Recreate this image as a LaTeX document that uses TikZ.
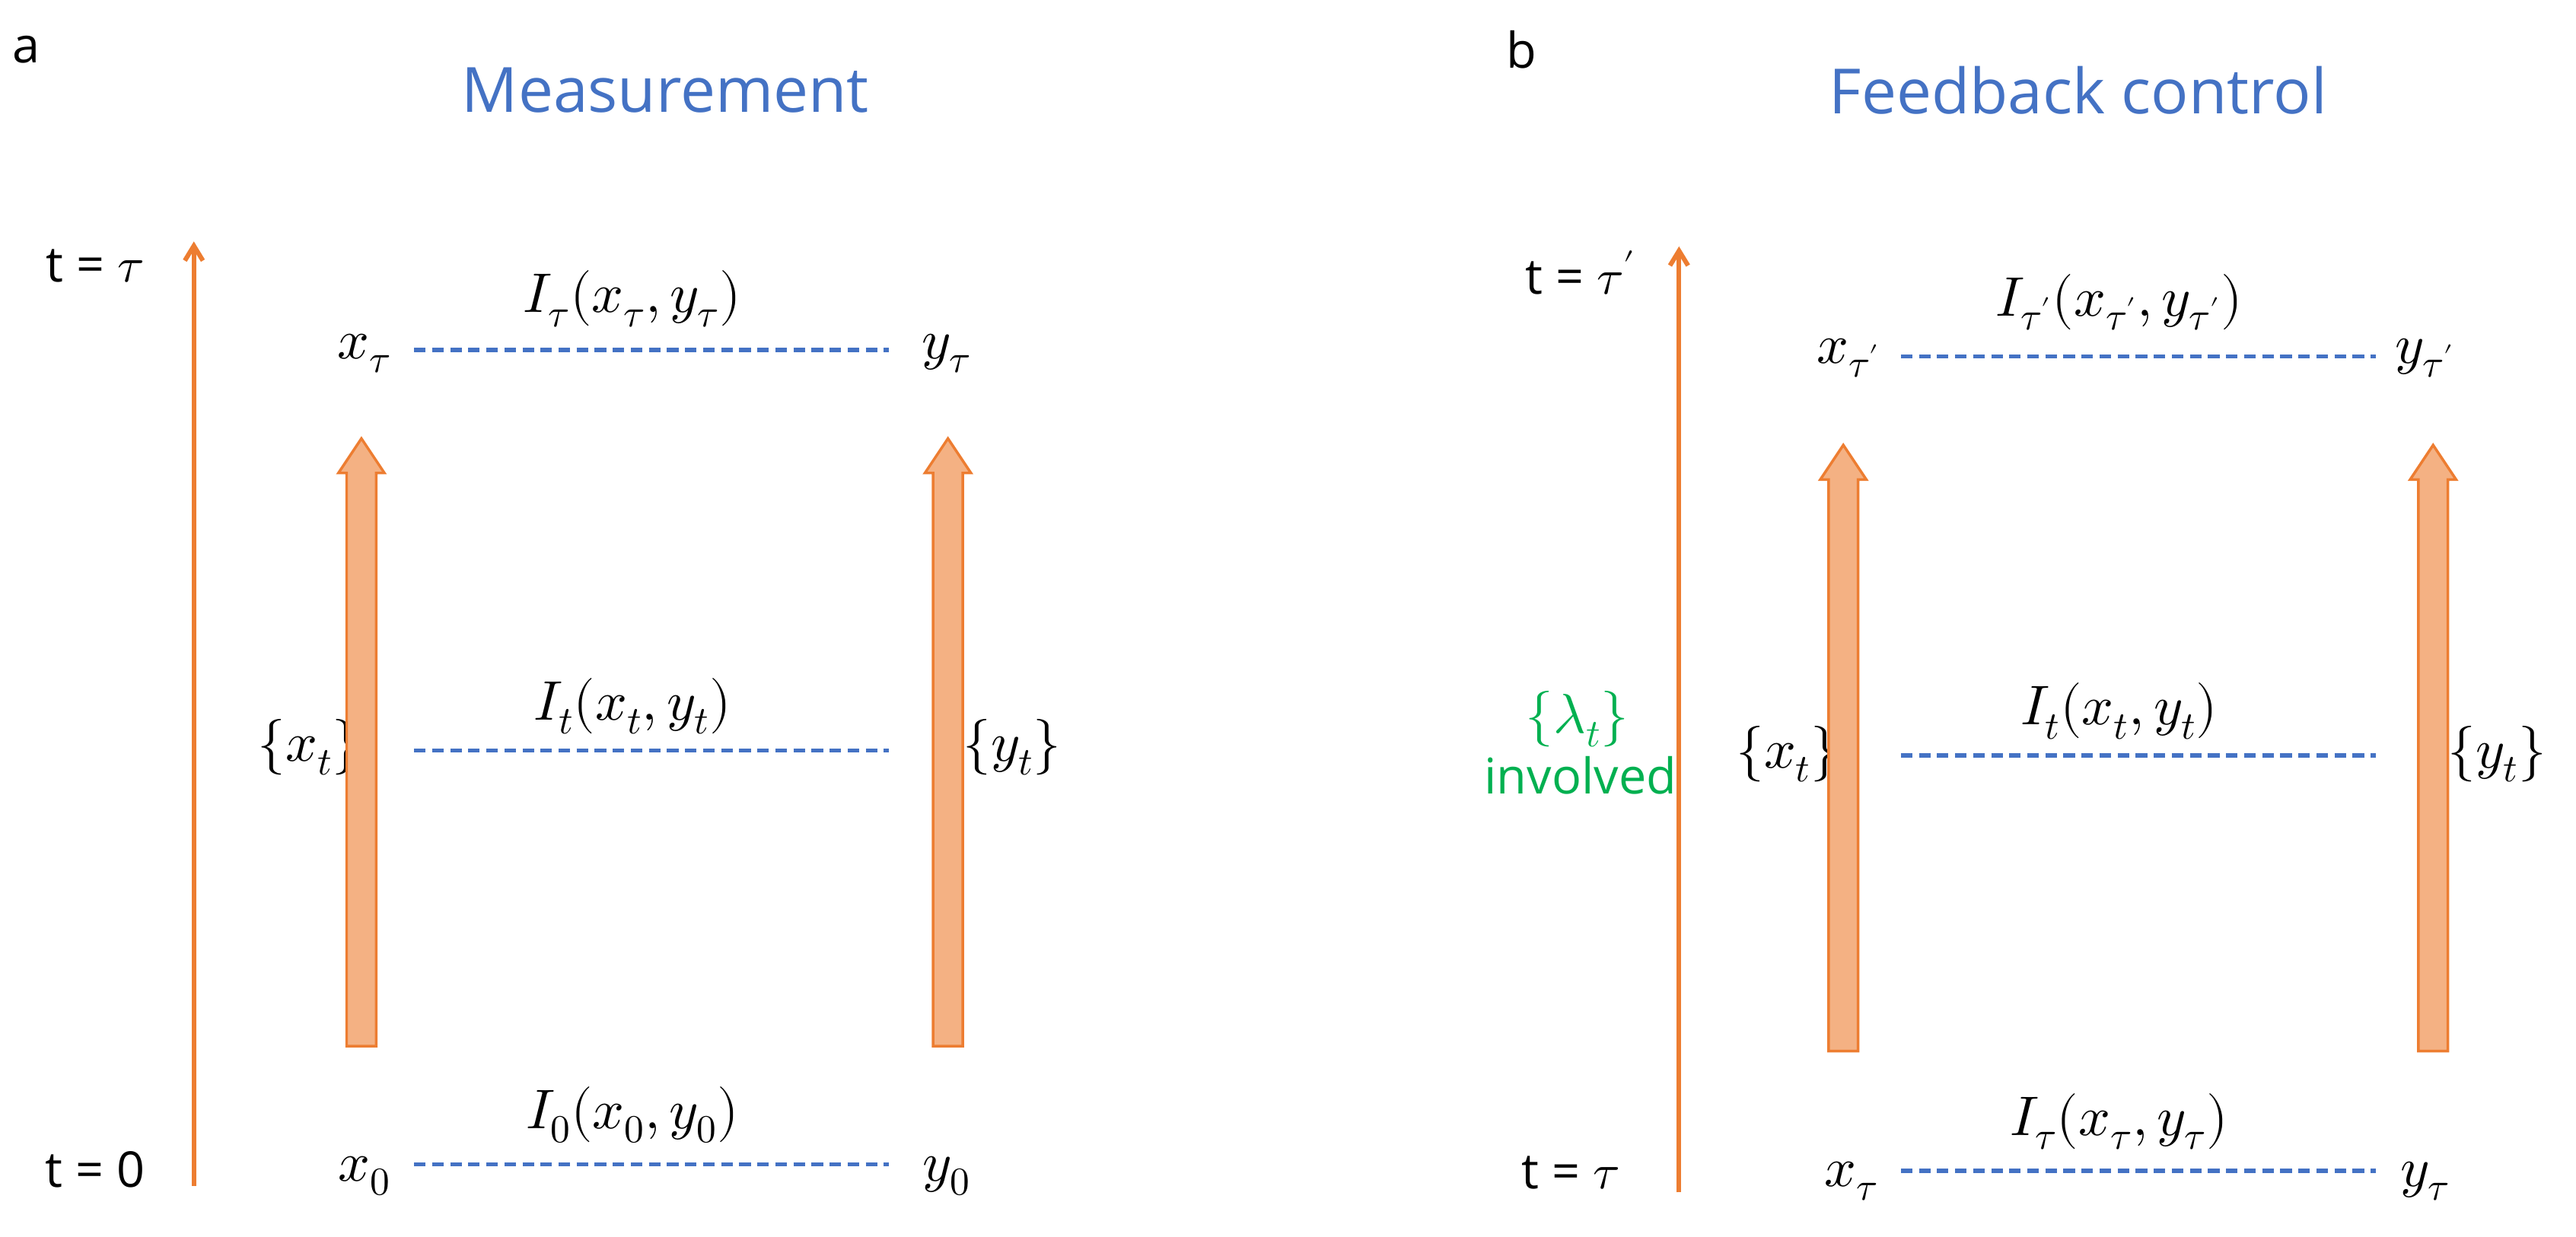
\documentclass[tikz,border=0pt]{standalone}
\usepackage{fontspec}
\setmainfont{Open Sans}
\usepackage{unicode-math}
\setmathfont{Latin Modern Math}
\usetikzlibrary{arrows.meta}
\definecolor{cblue}{HTML}{4472C4}
\definecolor{corange}{HTML}{ED7D31}
\definecolor{cfill}{HTML}{F4B183}
\definecolor{cgreen}{HTML}{00B050}
\begin{document}
\begin{tikzpicture}[x=1pt,y=-1pt,
  lab/.style={font=\fontsize{30}{36}\selectfont, inner sep=0pt},
  mth/.style={font=\fontsize{34}{40}\selectfont, inner sep=0pt},
  ttl/.style={font=\fontsize{38}{44}\selectfont, text=cblue, inner sep=0pt},
  bdash/.style={cblue, line width=2.6pt, dash pattern=on 7pt off 4pt},
  time/.style={corange, line width=2.8pt, -{Straight Barb[length=9pt,width=11pt]}},
  big/.style={draw=corange, fill=cfill, line width=1.6pt}]
\useasboundingbox (0,0) rectangle (1568,753);
% panel a
\node[lab] (a) at (16,30) {a};
\node[ttl] (ta) at (405,55) {Measurement};
\coordinate (a0) at (118,722); \coordinate (a1) at (118,147);
\draw[time] (a0) -- (a1);
\node[lab] (tat) at (58,162) {t = $\tau$};
\node[lab] (ta0) at (58,712) {t = 0};
\node[mth] (xt) at (222,215) {$x_\tau$};
\node[mth] (yt) at (576,215) {$y_\tau$};
\draw[bdash] (252,213) -- (541,213);
\node[mth] (it) at (385,182) {$I_\tau(x_\tau,y_\tau)$};
\node[mth] (xm) at (188,455) {$\{x_t\}$};
\node[mth] (ym) at (616,455) {$\{y_t\}$};
\draw[bdash] (252,457) -- (541,457);
\node[mth] (im) at (385,430) {$I_t(x_t,y_t)$};
\node[mth] (x0) at (222,716) {$x_0$};
\node[mth] (y0) at (576,716) {$y_0$};
\draw[bdash] (252,709) -- (541,709);
\node[mth] (i0) at (385,679) {$I_0(x_0,y_0)$};
\foreach \cx in {220,577}{
 \draw[big] (\cx-9,637) -- (\cx-9,288) -- (\cx-14,288) -- (\cx,267) -- (\cx+14,288) -- (\cx+9,288) -- (\cx+9,637) -- cycle;}
% panel b
\node[lab] (b) at (926,30) {b};
\node[ttl] (tb) at (1265,55) {Feedback control};
\coordinate (b0) at (1022,726); \coordinate (b1) at (1022,150);
\draw[time] (b0) -- (b1);
\node[lab] (tbt) at (962,166) {t = $\tau'$};
\node[lab] (tb0) at (956,714) {t = $\tau$};
\node[mth] (bxt) at (1125,218) {$x_{\tau'}$};
\node[mth] (byt) at (1476,218) {$y_{\tau'}$};
\draw[bdash] (1157,217) -- (1446,217);
\node[mth] (bit) at (1290,184) {$I_{\tau'}(x_{\tau'},y_{\tau'})$};
\node[mth, text=cgreen] (lam) at (960,438) {$\{\lambda_t\}$};
\node[lab, text=cgreen] (inv) at (962,472) {involved};
\node[mth] (bxm) at (1088,459) {$\{x_t\}$};
\node[mth] (bym) at (1520,459) {$\{y_t\}$};
\draw[bdash] (1157,460) -- (1446,460);
\node[mth] (bim) at (1290,433) {$I_t(x_t,y_t)$};
\node[mth] (bx0) at (1127,719) {$x_\tau$};
\node[mth] (by0) at (1476,719) {$y_\tau$};
\draw[bdash] (1157,713) -- (1446,713);
\node[mth] (bi0) at (1290,683) {$I_\tau(x_\tau,y_\tau)$};
\foreach \cx in {1122,1481}{
 \draw[big] (\cx-9,640) -- (\cx-9,292) -- (\cx-14,292) -- (\cx,271) -- (\cx+14,292) -- (\cx+9,292) -- (\cx+9,640) -- cycle;}
\end{tikzpicture}
\end{document}
